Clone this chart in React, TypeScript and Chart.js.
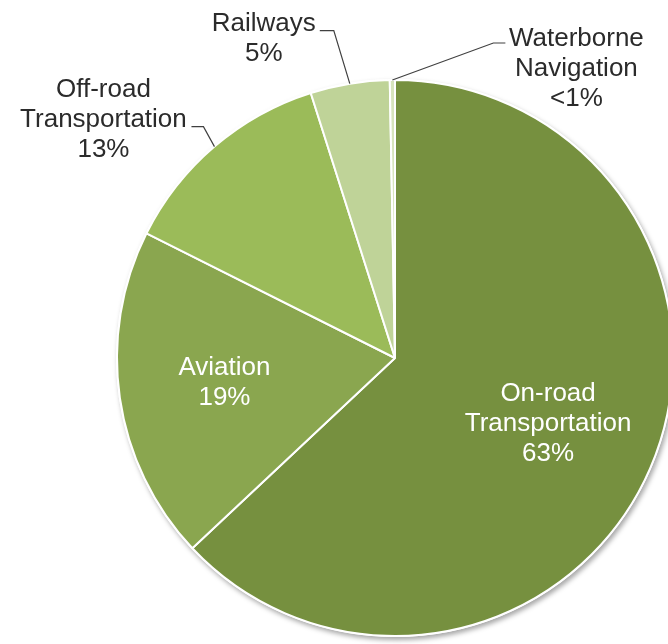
import React, { useEffect, useRef } from "react";
import { Chart, registerables } from "chart.js";

Chart.register(...registerables);

const categories = [
  "On-road Transportation",
  "Aviation",
  "Off-road Transportation",
  "Railways",
  "Waterborne Navigation",
];
const shares = [63, 19.4, 12.7, 4.6, 0.3];
const shareLabels = ["63%", "19%", "13%", "5%", "<1%"];
const labelLines = [
  ["On-road", "Transportation"],
  ["Aviation"],
  ["Off-road", "Transportation"],
  ["Railways"],
  ["Waterborne", "Navigation"],
];
const colors = ["#76903F", "#8AA64F", "#9BBB59", "#BFD398", "#D7E4BD"];

// label layout (relative to slice geometry)
const labelLayout: any[] = [
  { mode: "inside", f: 0.6 },
  { mode: "inside", f: 0.62 },
  { mode: "outside", elbow: [-11, -20], end: [-23, -20], text: [-111, -50] },
  { mode: "outside", elbow: [-16, -53], end: [-30, -53], text: [-86, -53] },
  { mode: "outside", elbow: [101, -37], end: [113, -37], text: [184, -34] },
];

const FONT = '26px "Liberation Sans", Arial, sans-serif';
const LINE_H = 30;

const shadowPlugin = {
  id: "pieShadow",
  beforeDatasetsDraw(chart: any) {
    const arc = chart.getDatasetMeta(0).data[0];
    if (!arc) return;
    const { x, y, outerRadius } = arc.getProps(["x", "y", "outerRadius"], true);
    const ctx = chart.ctx;
    ctx.save();
    ctx.shadowColor = "rgba(0,0,0,0.35)";
    ctx.shadowBlur = 5;
    ctx.shadowOffsetX = 2;
    ctx.shadowOffsetY = 3;
    ctx.fillStyle = "#ffffff";
    ctx.beginPath();
    ctx.arc(x, y, outerRadius + 1, 0, Math.PI * 2);
    ctx.fill();
    ctx.restore();
  },
};

const labelPlugin = {
  id: "sliceLabels",
  afterDatasetsDraw(chart: any) {
    const ctx = chart.ctx;
    const meta = chart.getDatasetMeta(0);
    ctx.save();
    ctx.font = FONT;
    meta.data.forEach((arc: any, i: number) => {
      const { x, y, startAngle, endAngle, outerRadius } = arc.getProps(
        ["x", "y", "startAngle", "endAngle", "outerRadius"],
        true
      );
      const mid = (startAngle + endAngle) / 2;
      const lines = [...labelLines[i], shareLabels[i]];
      const lay = labelLayout[i];
      if (lay.mode === "inside") {
        const px = x + Math.cos(mid) * outerRadius * lay.f;
        const py = y + Math.sin(mid) * outerRadius * lay.f;
        ctx.fillStyle = "#ffffff";
        ctx.textAlign = "center";
        ctx.textBaseline = "middle";
        const top = py - ((lines.length - 1) * LINE_H) / 2;
        lines.forEach((t, k) => ctx.fillText(t, px, top + k * LINE_H));
      } else {
        const ex = x + Math.cos(mid) * outerRadius;
        const ey = y + Math.sin(mid) * outerRadius;
        ctx.strokeStyle = "#404040";
        ctx.lineWidth = 1.2;
        ctx.beginPath();
        ctx.moveTo(ex, ey);
        ctx.lineTo(ex + lay.elbow[0], ey + lay.elbow[1]);
        ctx.lineTo(ex + lay.end[0], ey + lay.end[1]);
        ctx.stroke();
        ctx.fillStyle = "#2b2b2b";
        ctx.textAlign = "center";
        ctx.textBaseline = "alphabetic";
        lines.forEach((t, k) =>
          ctx.fillText(t, ex + lay.text[0], ey + lay.text[1] + k * LINE_H)
        );
      }
    });
    ctx.restore();
  },
};

export default function App() {
  const ref = useRef<HTMLCanvasElement | null>(null);
  useEffect(() => {
    document.body.style.margin = "0";
    const canvas = ref.current!;
    const chart = new Chart(canvas, {
      type: "pie",
      data: {
        labels: categories,
        datasets: [
          {
            data: shares,
            backgroundColor: colors,
            borderColor: "#ffffff",
            borderWidth: 2,
          },
        ],
      },
      options: {
        responsive: false,
        animation: false,
        layout: { padding: { left: 116, right: 116, top: 79, bottom: 79 } },
        plugins: {
          legend: { display: false },
          tooltip: { enabled: false },
        },
      },
      plugins: [shadowPlugin, labelPlugin],
    });
    return () => chart.destroy();
  }, []);
  return (
    <div
      style={{
        position: "fixed",
        left: 0,
        top: 0,
        width: 668,
        height: 644,
        overflow: "hidden",
        background: "#ffffff",
      }}
    >
      <canvas ref={ref} width={790} height={716} style={{ width: 790, height: 716 }} />
    </div>
  );
}
